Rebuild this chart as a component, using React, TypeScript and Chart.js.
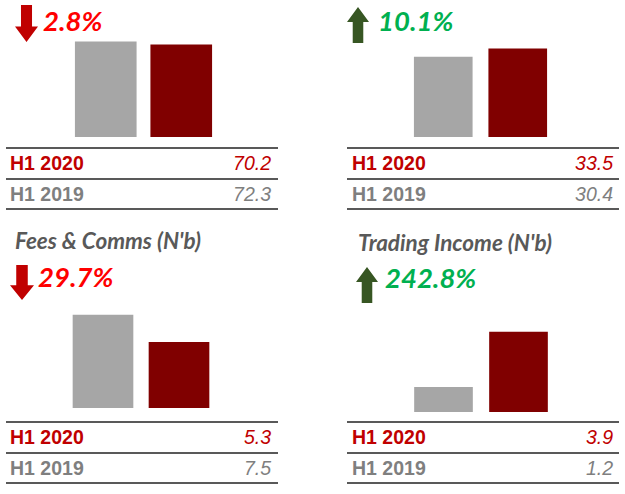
import React, { useEffect, useRef } from 'react';
import { Chart, ChartConfiguration, registerables } from 'chart.js';

Chart.register(...registerables);

// Data
const periods = ['H1 2019', 'H1 2020'];
const panelTitles = ['', '', "Fees & Comms (N'b)", "Trading Income (N'b)"];
const changeLabels = ['2.8%', '10.1%', '29.7%', '242.8%'];
const changeUp = [false, true, false, true];
const valuesH1_2019 = [72.3, 30.4, 7.5, 1.2];
const valuesH1_2020 = [70.2, 33.5, 5.3, 3.9];

const GRAY_BAR = '#a6a6a6';
const RED_BAR = '#800000';
const RED_TEXT = '#c00000';
const GRAY_TEXT = '#7f7f7f';
const LINE = '#595959';

// layout for each panel (pixels in the 625x494 frame)
const layouts = [
  { chart: { left: 68, top: 20, width: 151, height: 117 }, bar: 61, yMax: 89, arrow: { x: 15, y: 5, w: 23, h: 37 }, pct: { x: 43, y: 22 }, title: null, lineX: 6, lineW: 272, lineY: 148, labelX: 10, valueRight: 271 },
  { chart: { left: 406, top: 20, width: 149, height: 117 }, bar: 58, yMax: 44.5, arrow: { x: 347, y: 7, w: 22, h: 36 }, pct: { x: 378, y: 22 }, title: null, lineX: 347, lineW: 272, lineY: 148, labelX: 352, valueRight: 613 },
  { chart: { left: 65, top: 298, width: 152, height: 110 }, bar: 60, yMax: 8.87, arrow: { x: 10, y: 265, w: 24, h: 35 }, pct: { x: 38, y: 278 }, title: { x: 15, y: 241 }, lineX: 6, lineW: 272, lineY: 422, labelX: 10, valueRight: 271 },
  { chart: { left: 406, top: 302, width: 150, height: 110 }, bar: 58, yMax: 5.37, arrow: { x: 356, y: 267, w: 22, h: 36 }, pct: { x: 385, y: 279 }, title: { x: 358, y: 243 }, lineX: 347, lineW: 272, lineY: 422, labelX: 352, valueRight: 613 },
];

const BarChart: React.FC<{ idx: number }> = ({ idx }) => {
  const canvasRef = useRef<HTMLCanvasElement>(null);
  const L = layouts[idx];

  useEffect(() => {
    if (!canvasRef.current) return;
    const config: ChartConfiguration = {
      type: 'bar',
      data: {
        labels: periods,
        datasets: [{
          data: [valuesH1_2019[idx], valuesH1_2020[idx]],
          backgroundColor: [GRAY_BAR, RED_BAR],
          borderWidth: 0,
          barThickness: L.bar,
        }],
      },
      options: {
        responsive: true,
        maintainAspectRatio: false,
        animation: false,
        layout: { padding: 0 },
        plugins: { legend: { display: false }, tooltip: { enabled: false } },
        scales: {
          x: { display: false },
          y: { display: false, min: 0, max: L.yMax },
        },
      },
    };
    const chart = new Chart(canvasRef.current, config);
    return () => chart.destroy();
  }, [idx]);

  return (
    <div style={{ position: 'absolute', ...L.chart }}>
      <canvas ref={canvasRef} />
    </div>
  );
};

const Arrow: React.FC<{ up: boolean; x: number; y: number; w: number; h: number }> = ({ up, x, y, w, h }) => {
  const shaft = w * 0.48;
  const head = h * 0.42;
  const s0 = (w - shaft) / 2;
  const s1 = s0 + shaft;
  const pts = up
    ? `${w / 2},0 ${w},${head} ${s1},${head} ${s1},${h} ${s0},${h} ${s0},${head} 0,${head}`
    : `${s0},0 ${s1},0 ${s1},${h - head} ${w},${h - head} ${w / 2},${h} 0,${h - head} ${s0},${h - head}`;
  return (
    <svg style={{ position: 'absolute', left: x, top: y }} width={w} height={h}>
      <polygon points={pts} fill={up ? '#375623' : RED_TEXT} />
    </svg>
  );
};

const Panel: React.FC<{ idx: number }> = ({ idx }) => {
  const L = layouts[idx];
  const up = changeUp[idx];
  const rows = [
    { label: periods[1], value: valuesH1_2020[idx], color: RED_TEXT },
    { label: periods[0], value: valuesH1_2019[idx], color: GRAY_TEXT },
  ];
  return (
    <>
      {L.title && (
        <div style={{ position: 'absolute', left: L.title.x, top: L.title.y - 14, height: 28, lineHeight: '28px', font: 'italic bold 22.5px Lato, sans-serif', color: LINE, whiteSpace: 'nowrap' }}>
          {panelTitles[idx]}
        </div>
      )}
      <Arrow up={up} {...L.arrow} />
      <div style={{ position: 'absolute', left: L.pct.x, top: L.pct.y - 18, height: 36, lineHeight: '36px', font: 'italic bold 27.5px Lato, sans-serif', color: up ? '#00b050' : '#ff0000', whiteSpace: 'nowrap' }}>
        {changeLabels[idx]}
      </div>
      <BarChart idx={idx} />
      {[0, 1, 2].map((k) => (
        <div key={k} style={{ position: 'absolute', left: L.lineX, top: L.lineY - 1 + k * 30.5, width: L.lineW, height: 2, background: LINE }} />
      ))}
      {rows.map((r, k) => (
        <div key={r.label} style={{ position: 'absolute', left: L.labelX, top: L.lineY + 1 + k * 30.5, width: L.valueRight - L.labelX, height: 29, lineHeight: '29px', fontFamily: '"Liberation Sans", Arial, sans-serif', fontSize: 19.5, color: r.color, display: 'flex', justifyContent: 'space-between' }}>
          <span style={{ fontWeight: 'bold' }}>{r.label}</span>
          <span style={{ fontStyle: 'italic' }}>{r.value.toFixed(1)}</span>
        </div>
      ))}
    </>
  );
};

const App: React.FC = () => {
  return (
    <div style={{ position: 'fixed', left: 0, top: 0, width: 625, height: 494, background: '#ffffff', overflow: 'hidden' }}>
      {layouts.map((_, i) => (
        <Panel key={i} idx={i} />
      ))}
    </div>
  );
};

export default App;
